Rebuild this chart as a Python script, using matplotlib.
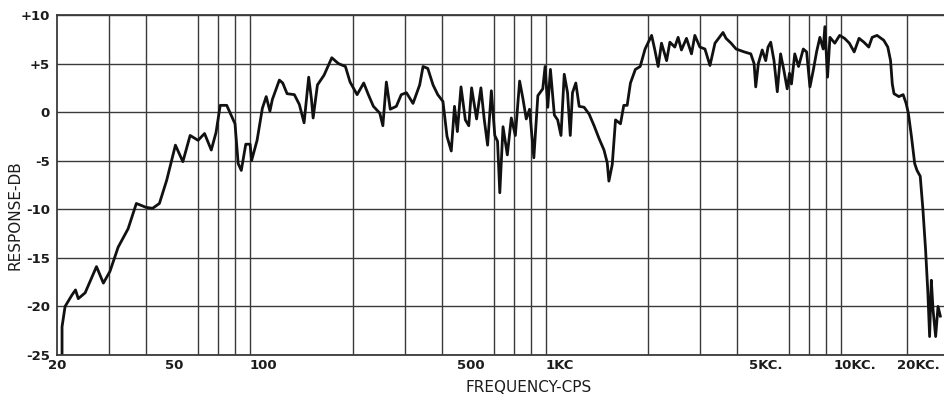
import matplotlib
matplotlib.use("Agg")
import matplotlib.pyplot as plt
import matplotlib.transforms as mtransforms

# frequency response (Hz, dB)
freq_hz = [20.8, 20.8, 21.3, 22.5, 23.1, 23.6, 24.9, 27.2, 28.7, 30.2, 32.2, 34.8, 37.1,
           40, 42.1, 44.4, 47, 50.3, 53.3, 56.4, 60, 63.1, 66.5, 69, 71.3, 75, 80,
           82, 84, 87, 90, 91, 95,
           99, 102, 105, 107, 113, 116, 120, 127, 132, 137, 142, 145, 147, 152, 160,
           170, 179, 189, 196, 207, 218, 226, 235, 247, 253, 260, 268, 281, 292, 304,
           320, 337, 346, 359, 374, 388, 404, 417, 431, 442, 452,
           465, 481, 494, 505, 525, 543, 557, 572, 589, 605, 618, 629, 645, 667, 688,
           710, 734, 753, 773, 793, 820, 846, 879, 895, 914, 933, 962, 987, 1013,
           1039, 1066, 1089, 1108, 1137, 1167, 1213, 1261, 1311, 1362, 1416, 1452,
           1471, 1510, 1549, 1610, 1652, 1696, 1740, 1808,
           1877, 1950, 2052, 2104, 2159, 2216, 2306, 2365, 2458, 2522, 2588, 2692,
           2799, 2873, 2988, 3108, 3232, 3361, 3578, 3662, 3809, 3961, 4222, 4442,
           4557, 4616, 4711, 4855, 4989, 5081, 5187, 5322, 5460, 5602, 5748, 5897,
           6004, 6097, 6256, 6443, 6686, 6861, 7041, 7225, 7414, 7608, 7807, 7909,
           8075, 8227, 8544, 8873, 9215, 9570, 9938, 10320, 10720, 11130, 11430,
           11870, 12510, 12910, 13190, 13370, 13550, 14070, 14550, 14890, 15150,
           15520, 15920, 16210, 16620, 16970, 17330, 17640, 17880, 18120, 18360,
           18740, 19090, 19440]
response_db = [-25, -22.1, -20, -18.8, -18.3, -19.2, -18.6, -15.9, -17.6, -16.4, -13.9, -12, -9.4,
               -9.8, -9.9, -9.4, -7, -3.4, -5.1, -2.4, -2.9, -2.2, -3.9, -2.1, 0.7, 0.7, -1.2,
               -5.3, -6, -3.3, -3.3, -5, -2.9,
               0.4, 1.6, 0.1, 1.3, 3.3, 3.0, 1.9, 1.8, 0.8, -1.1, 3.6, 1.4, -0.6, 2.8, 3.8,
               5.6, 5.0, 4.7, 3.1, 1.8, 3.0, 1.8, 0.6, -0.1, -1.4, 3.1, 0.3, 0.6, 1.8, 2.0,
               0.9, 2.8, 4.7, 4.5, 2.8, 1.8, 1.1, -2.5, -4.0, 0.6, -2.0,
               2.6, -0.8, -1.4, 2.5, -0.7, 2.5, -0.7, -3.4, 2.2, -2.4, -3.0, -8.3, -1.5, -4.4, -0.6,
               -2.4, 3.2, 1.4, -0.7, 0.3, -4.7, 1.7, 2.4, 4.7, 0.5, 4.4, -0.3, -0.8, -2.4,
               3.9, 2.0, -2.4, 2.0, 3.0, 0.6, 0.5, -0.2, -1.4, -2.7, -3.9, -5.2,
               -7.1, -5.4, -0.8, -1.2, 0.7, 0.7, 3.0, 4.4,
               4.7, 6.5, 7.9, 6.4, 4.7, 7.1, 5.3, 7.2, 6.7, 7.7, 6.4, 7.6,
               6.0, 7.9, 6.7, 6.5, 4.8, 7.1, 8.2, 7.6, 7.1, 6.5, 6.2, 6.0,
               5.0, 2.6, 5.0, 6.4, 5.3, 6.7, 7.2, 5.3, 2.1, 6.0, 4.3, 2.4,
               4.0, 2.9, 6.0, 4.7, 6.5, 6.2, 2.6, 4.3, 6.2, 7.7, 6.5, 8.8,
               3.6, 7.7, 7.1, 7.9, 7.6, 7.1, 6.2, 7.6, 7.2, 6.7, 7.7,
               7.9, 7.4, 6.7, 5.3, 2.9, 1.9, 1.6, 1.8, 0.9, -0.1,
               -2.5, -5.3, -6.0, -6.6, -10.0, -14.2, -18.6, -23.1, -17.3, -20.3,
               -23.1, -20.0, -21.0]

# chart paper grid and labels
grid_freqs = [20, 30, 40, 50, 60, 70, 80, 90, 100, 200, 300, 400, 500, 600, 700, 800, 900,
              1000, 2000, 3000, 4000, 5000, 6000, 7000, 8000, 9000, 10000, 15000]
label_freqs = [20, 50, 100, 500, 1000, 5000, 10000, 20000]
label_text = ['20', '50', '100', '500', '1KC', '5KC.', '10KC.', '20KC.']
db_ticks = [-25, -20, -15, -10, -5, 0, 5, 10]
db_text = ['-25', '-20', '-15', '-10', '-5', '0', '+5', '+10']

ink = '#1c1c1c'
W, H = 944, 397
fig = plt.figure(figsize=(W / 100, H / 100), dpi=100)
ax = fig.add_axes([57 / W, (H - 355) / H, 887 / W, 340 / H])

ax.plot(freq_hz, response_db, color='#111111', linewidth=2.0, solid_joinstyle='round')

ax.set_xscale('log')
ax.set_xlim(20, 20000)
ax.set_ylim(-25, 10)

ax.set_xticks(grid_freqs, minor=True)
ax.set_xticks(label_freqs)
ax.set_xticklabels(label_text)
ax.xaxis.set_minor_formatter(matplotlib.ticker.NullFormatter())
ax.set_yticks(db_ticks)
ax.set_yticklabels(db_text)
ax.tick_params(which='both', length=0, labelsize=9.5, labelcolor=ink)
ax.tick_params(axis='y', pad=5)
ax.tick_params(axis='x', pad=3)
for t in ax.get_xticklabels() + ax.get_yticklabels():
    t.set_fontweight('bold')

# last label sits against the right edge of the sheet
last = ax.get_xticklabels()[-1]
last.set_horizontalalignment('right')
last.set_transform(last.get_transform() + mtransforms.ScaledTranslation(-3 / 72, 0, fig.dpi_scale_trans))

ax.grid(True, which='minor', axis='x', color='#3a3a3a', linewidth=1.0)
ax.grid(True, which='major', axis='y', color='#3a3a3a', linewidth=1.0)

for side in ['left', 'top', 'bottom']:
    ax.spines[side].set_color('#3a3a3a')
    ax.spines[side].set_linewidth(1.3)
ax.spines['right'].set_visible(False)

ax.set_xlabel('FREQUENCY-CPS', fontsize=11, color=ink)
ax.xaxis.set_label_coords(0.532, -0.074)
ax.set_ylabel('RESPONSE-DB', fontsize=11, color=ink)
ax.yaxis.set_label_coords(-0.039, 0.41)

fig.savefig('out.png', dpi=100, facecolor='white')
